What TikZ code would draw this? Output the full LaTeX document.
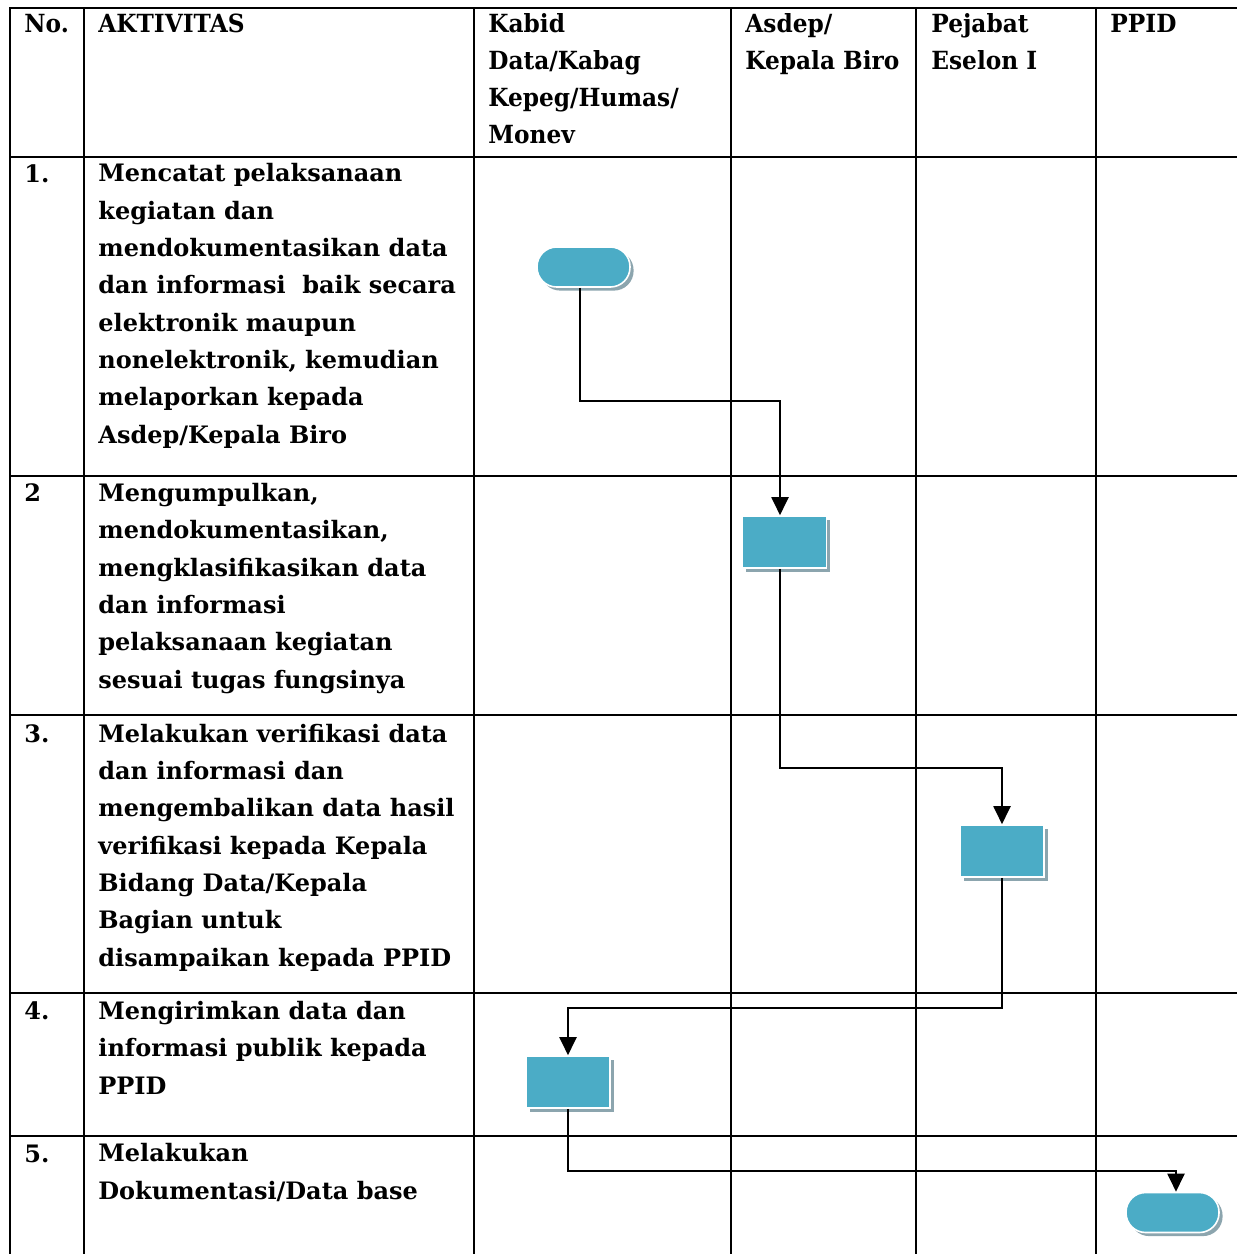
\documentclass[tikz,border=0pt]{standalone}
\usepackage{fontspec}
\usetikzlibrary{arrows.meta,shadows,calc}
\newfontfamily\cellfont{DejaVu Serif}
\newfontfamily\headfont[FakeStretch=0.93]{DejaVu Serif}
\definecolor{boxfill}{RGB}{75,172,198}
\definecolor{boxshade}{RGB}{140,165,174}
\tikzset{
  x=0.5pt, y=-0.5pt,
  thickrule/.style={line width=1.25pt, line cap=rect},
  thinrule/.style={line width=0.6pt},
  celltext/.style={anchor=base west, align=left, inner sep=0pt,
    font=\cellfont\bfseries\fontsize{12}{18.65}\selectfont},
  headtext/.style={anchor=base west, align=left, inner sep=0pt,
    font=\headfont\bfseries\fontsize{12.5}{18.5}\selectfont},
  procbox/.style={draw=white, line width=0.8pt, fill=boxfill,
    minimum width=42pt, minimum height=26pt, inner sep=0pt,
    drop shadow={shadow xshift=1.8pt, shadow yshift=-1.8pt, fill=boxshade, opacity=1}},
  termbox/.style={procbox, rounded corners=9.8pt,
    minimum width=46.5pt, minimum height=20pt},
  flow/.style={line width=1pt, -{Triangle[length=9pt,width=8.5pt]}}
}
\begin{document}
\begin{tikzpicture}
\useasboundingbox (0,0) rectangle (1237,1254);

% thin grid on the flow columns
\foreach \yy in {476,715,993,1136} \draw[thinrule] (474,\yy) -- (1237,\yy);
\foreach \xx in {731,916,1096} \draw[thinrule] (\xx,8) -- (\xx,1254);

% heavy rules of the first columns and the header
\draw[thickrule] (10,8) -- (1237,8);
\draw[thickrule] (10,157) -- (1237,157);
\foreach \yy in {476,715,993,1136} \draw[thickrule] (10,\yy) -- (474,\yy);
\draw[thickrule] (10,8) -- (10,1254);
\draw[thickrule] (84,8) -- (84,1254);
\draw[line width=1pt] (474,8) -- (474,1254);

% header (each node sits on the baseline of its last line)
\node[headtext] (hno) at (24,32) {No.};
\node[headtext] (hakt) at (98,32) {AKTIVITAS};
\node[headtext] (hkab) at (488,143) {Kabid\\Data/Kabag\\Kepeg/Humas/\\Monev};
\node[headtext] (hasd) at (745,69) {Asdep/\\Kepala Biro};
\node[headtext] (hpej) at (931,69) {Pejabat\\Eselon I};
\node[headtext] (hppid) at (1110,32) {PPID};

% activities
\node[celltext] (n1) at (24,182) {1.};
\node[celltext] (a1) at (98,443) {Mencatat pelaksanaan\\kegiatan dan\\mendokumentasikan data\\dan informasi\ \ baik secara\\elektronik maupun\\nonelektronik, kemudian\\melaporkan kepada\\Asdep/Kepala Biro};
\node[celltext] (n2) at (24,501) {2};
\node[celltext] (a2) at (98,688) {Mengumpulkan,\\mendokumentasikan,\\mengklasifikasikan data\\dan informasi\\pelaksanaan kegiatan\\sesuai tugas fungsinya};
\node[celltext] (n3) at (24,742) {3.};
\node[celltext] (a3) at (98,966) {Melakukan verifikasi data\\dan informasi dan\\mengembalikan data hasil\\verifikasi kepada Kepala\\Bidang Data/Kepala\\Bagian untuk\\disampaikan kepada PPID};
\node[celltext] (n4) at (24,1019) {4.};
\node[celltext] (a4) at (98,1094) {Mengirimkan data dan\\informasi publik kepada\\PPID};
\node[celltext] (n5) at (24,1162) {5.};
\node[celltext] (a5) at (98,1199) {Melakukan\\Dokumentasi/Data base};

% flow shapes
\node[termbox] (t1) at (583.5,267) {};
\node[procbox] (r2) at (784.5,542) {};
\node[procbox] (r3) at (1002,851) {};
\node[procbox] (r4) at (568,1082) {};
\node[termbox] (t5) at (1172.5,1212.5) {};

% connectors
\draw[flow] ([xshift=-1.75pt]t1.south) -- ++(0,113) -| ([xshift=-2.25pt]r2.north);
\draw[flow] ([xshift=-2.25pt]r2.south) -- ++(0,199) -| (r3.north);
\draw[flow] (r3.south) -- ++(0,130) -| (r4.north);
\draw[flow] (r4.south) -- ++(0,62) -| ([xshift=1.75pt]t5.north);
\end{tikzpicture}
\end{document}
